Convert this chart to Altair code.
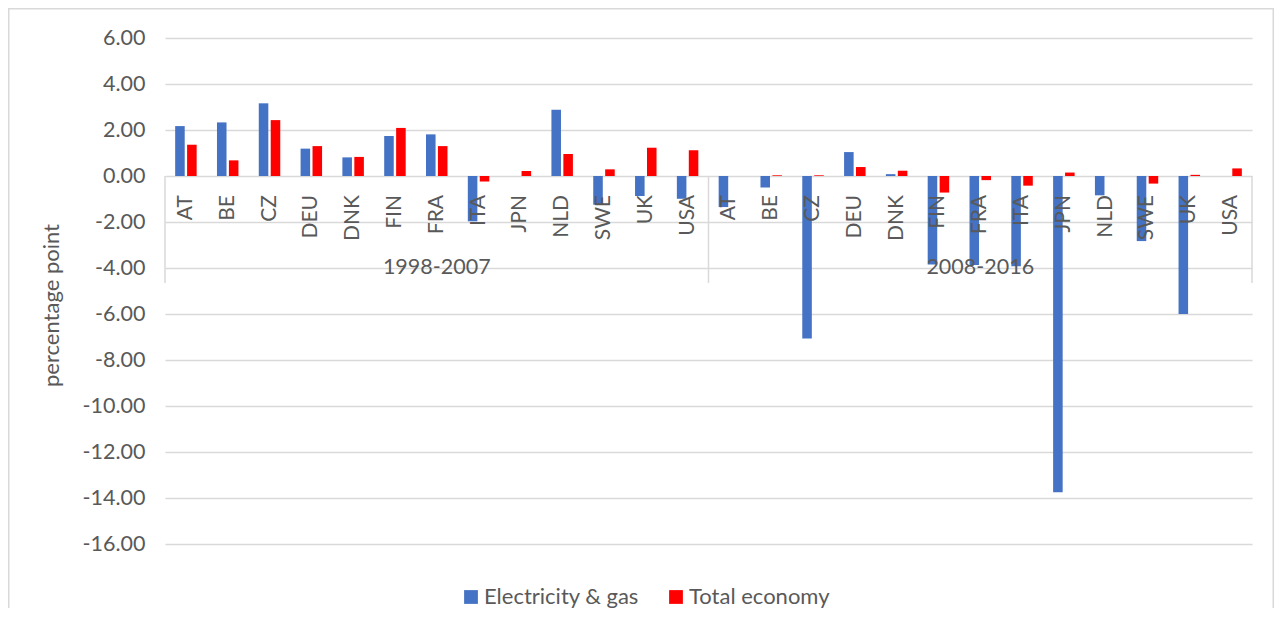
import altair as alt
import pandas as pd

countries = ["AT", "BE", "CZ", "DEU", "DNK", "FIN", "FRA", "ITA", "JPN", "NLD", "SWE", "UK", "USA"]
periods = ["1998-2007", "2008-2016"]
series_names = ["Electricity & gas", "Total economy"]

elec_p1 = [2.17, 2.33, 3.16, 1.19, 0.81, 1.74, 1.81, -1.97, 0.0, 2.88, -1.25, -0.87, -0.99]
total_p1 = [1.36, 0.68, 2.43, 1.30, 0.83, 2.09, 1.30, -0.24, 0.22, 0.96, 0.29, 1.23, 1.12]
elec_p2 = [-1.35, -0.50, -7.06, 1.04, 0.08, -3.85, -3.87, -3.92, -13.75, -0.84, -2.83, -6.00, 0.0]
total_p2 = [0.0, 0.03, 0.03, 0.39, 0.23, -0.72, -0.18, -0.42, 0.15, 0.0, -0.33, 0.05, 0.33]

y_ticks = [6, 4, 2, 0, -2, -4, -6, -8, -10, -12, -14, -16]

rows = []
for p, ev, tv in zip(periods, [elec_p1, elec_p2], [total_p1, total_p2]):
    for c, e, t in zip(countries, ev, tv):
        key = p + "|" + c
        rows.append(dict(key=key, period=p, country=c, series=series_names[0], value=e))
        rows.append(dict(key=key, period=p, country=c, series=series_names[1], value=t))
df = pd.DataFrame(rows)

keys = [p + "|" + c for p in periods for c in countries]
labels_df = pd.DataFrame({"key": keys, "country": countries * 2})
groups_df = pd.DataFrame({"key": [p + "|" + countries[6] for p in periods], "period": periods})
sep_df = pd.DataFrame({"pos": [0, len(countries), 2 * len(countries)]})

W, H = 1087, 506
PAD_L, PAD_T, PAD_R, PAD_B = 157, 30, 22, 64
FONT = "Lato"
GREY = "#595959"
GRID = "#d9d9d9"

xscale = alt.Scale(domain=keys, paddingInner=0.486, paddingOuter=0.243)
yscale = alt.Scale(domain=[-16, 6], nice=False)

border = alt.Chart(pd.DataFrame({"a": [0]})).mark_rect(
    fillOpacity=0, stroke=GRID, strokeWidth=1.5
).encode(
    x=alt.value(-PAD_L + 0.75), x2=alt.value(W + PAD_R - 0.75),
    y=alt.value(-PAD_T + 0.75), y2=alt.value(H + PAD_B + 40)
)

bars = alt.Chart(df).mark_bar().encode(
    x=alt.X("key:N", scale=xscale, sort=keys, axis=None),
    xOffset=alt.XOffset("series:N", scale=alt.Scale(domain=series_names, paddingInner=0.2)),
    y=alt.Y(
        "value:Q",
        scale=yscale,
        title="percentage point",
        axis=alt.Axis(
            values=y_ticks,
            labelExpr="(datum.value < 0 ? '-' : '') + format(abs(datum.value), '.2f')",
            labelFont=FONT, labelFontSize=21.5, labelColor=GREY, labelPadding=20,
            domain=False, ticks=False, gridColor=GRID, gridWidth=1.5,
            titleFont=FONT, titleFontSize=22, titleFontWeight="normal", titleColor=GREY,
            titleAngle=270, titleX=-114, titleY=267, titleAlign="center", titleBaseline="middle",
        ),
    ),
    color=alt.Color(
        "series:N",
        scale=alt.Scale(domain=series_names, range=["#4472C4", "#FF0000"]),
        legend=alt.Legend(
            orient="none", legendX=295, legendY=548, direction="horizontal", title=None,
            symbolType="square", symbolSize=190, symbolStrokeWidth=0,
            labelFont=FONT, labelFontSize=22, labelColor=GREY, labelOffset=2,
            columnPadding=26, padding=0,
        ),
    ),
)

seps = alt.Chart(sep_df).mark_rule(color=GRID, strokeWidth=1.5).encode(
    x=alt.X("pos:Q", scale=alt.Scale(domain=[0, 2 * len(countries)], nice=False, zero=False), axis=None),
    y=alt.datum(0),
    y2=alt.datum(-4.65),
)

labels = alt.Chart(labels_df).mark_text(
    angle=270, align="right", baseline="middle", dx=-19, font=FONT, fontSize=21, color=GREY
).encode(
    x=alt.X("key:N", scale=xscale, sort=keys, axis=None),
    y=alt.datum(0),
    text="country:N",
)

groups = alt.Chart(groups_df).mark_text(
    align="center", baseline="middle", font=FONT, fontSize=21.5, color=GREY
).encode(
    x=alt.X("key:N", scale=xscale, sort=keys, axis=None),
    y=alt.datum(-4),
    text="period:N",
)

chart = alt.layer(border, bars, seps, labels, groups).resolve_scale(
    x="independent"
).properties(
    width=W, height=H,
    autosize=alt.AutoSizeParams(type="none"),
    padding={"left": PAD_L, "top": PAD_T, "right": PAD_R, "bottom": PAD_B},
).configure_view(stroke=None)

chart.save("out.html", embed_options={"renderer": "svg", "actions": False})
